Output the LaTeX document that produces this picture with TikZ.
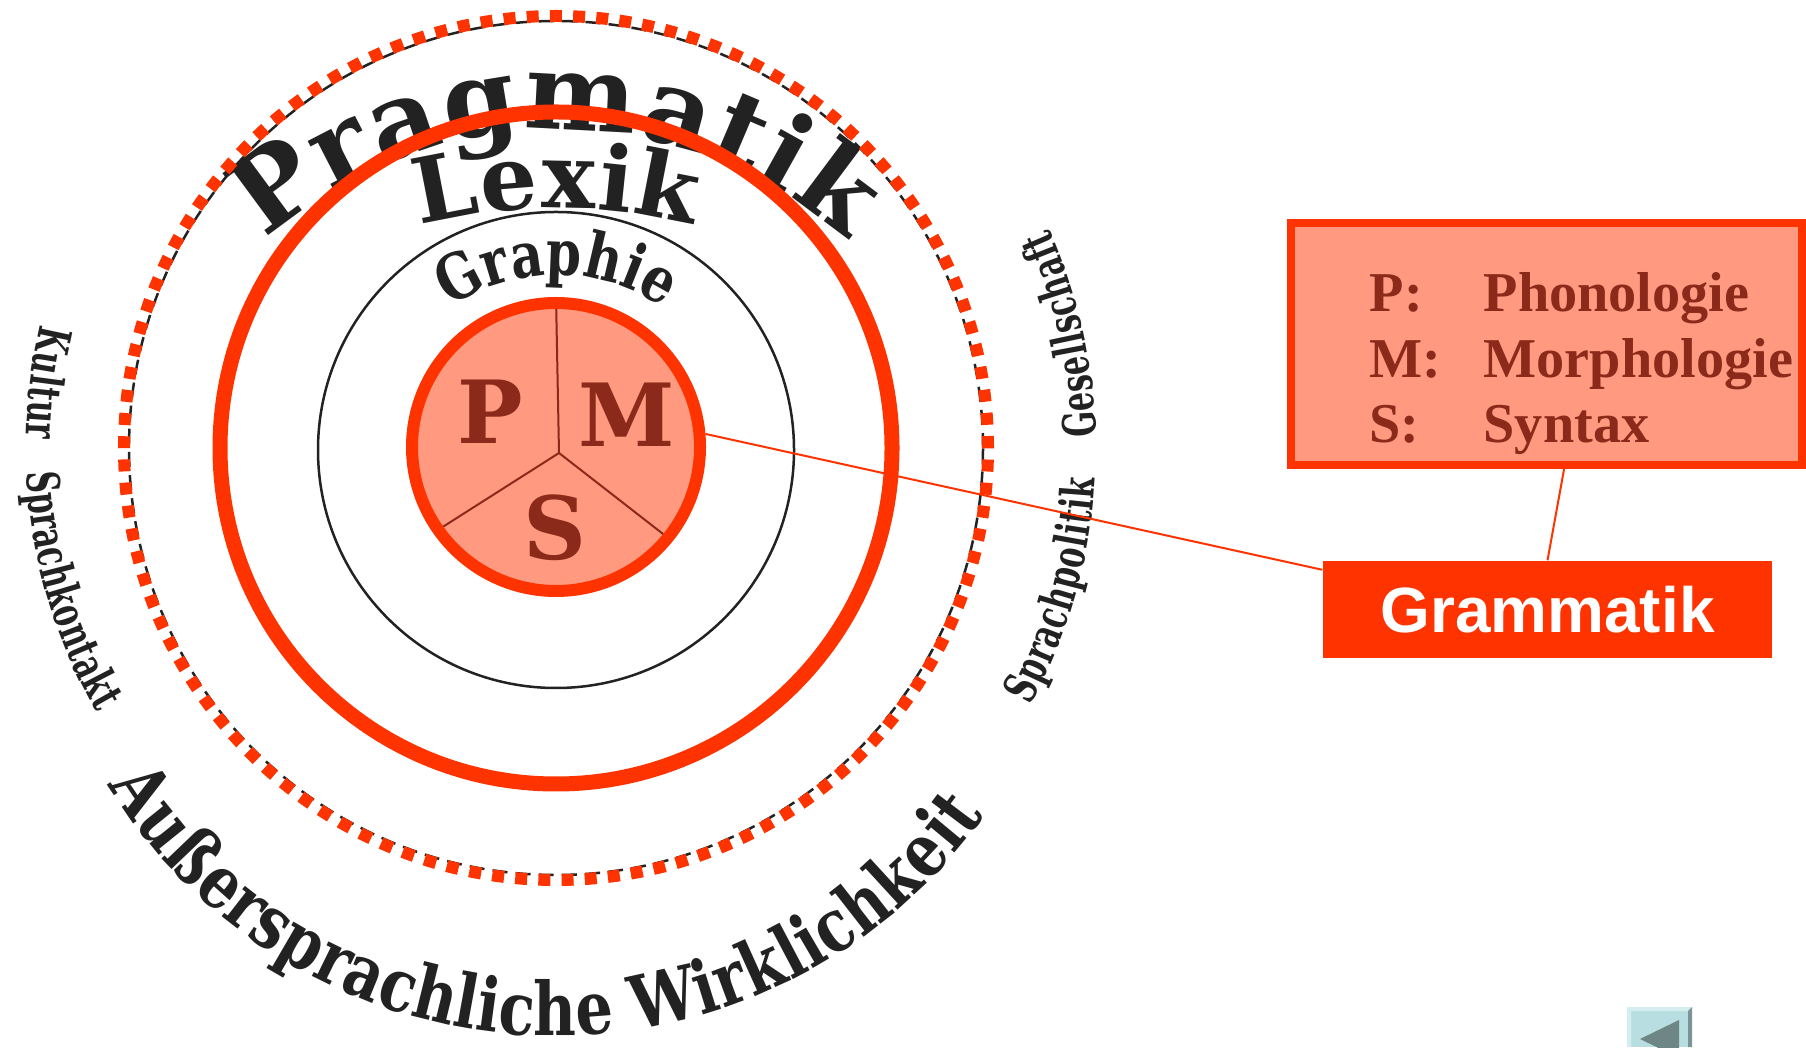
\documentclass[tikz,border=0pt]{standalone}
\usepackage{fontspec}
\usepackage{tikz}
\usetikzlibrary{calc,positioning,decorations.text}
\setsansfont{Liberation Sans}
\newfontfamily\arcfont{DejaVu Serif}
\newfontfamily\arcnarrow[FakeStretch=0.8]{DejaVu Serif}
\newfontfamily\sidefont[FakeStretch=0.66]{DejaVu Serif}
\newfontfamily\legfont{Liberation Serif}
\definecolor{hotred}{HTML}{FF3300}
\definecolor{salmon}{HTML}{FF9980}
\definecolor{rust}{HTML}{8B2A1A}
\definecolor{ink}{HTML}{222222}
\definecolor{btnface}{HTML}{B9DEE1}
\definecolor{btnlight}{HTML}{D6EDEF}
\definecolor{btnshade}{HTML}{7B9597}
\definecolor{btnarrow}{HTML}{6F8686}
\newcommand{\pragfont}{\color{ink}\arcfont\bfseries\fontsize{30}{32}\selectfont}
\newcommand{\lexfont}{\color{ink}\arcfont\bfseries\fontsize{25.6}{28}\selectfont}
\newcommand{\graphfont}{\color{ink}\arcnarrow\bfseries\fontsize{18}{20}\selectfont}
\newcommand{\realfont}{\color{ink}\arcnarrow\bfseries\fontsize{21}{23}\selectfont}
\newcommand{\ringfont}{\color{ink}\sidefont\bfseries\fontsize{13}{15}\selectfont}

\begin{document}
\begin{tikzpicture}[x=0.1mm, y=0.1mm,
    arctext/.style={decorate, decoration={text along path, text align=fit to path, text={#1}}},
    pmsdisk/.style={circle, fill=salmon, draw=hotred, line width=1.2mm, minimum size=28.8mm, inner sep=0pt},
    pmsletter/.style={text=rust, font=\arcfont\bfseries\fontsize{24.8}{26}\selectfont, inner sep=0pt},
    sector/.style={rust, line width=0.2mm, shorten >=1.2mm},
    grambox/.style={fill=hotred, text=white, font=\sffamily\bfseries\fontsize{18.2}{20}\selectfont, minimum width=44.9mm, minimum height=9.7mm, inner sep=0pt},
    legbox/.style={fill=salmon, draw=hotred, line width=0.8mm, minimum width=51.1mm, minimum height=24.2mm, inner sep=0pt},
    legtext/.style={text=rust, font=\legfont\bfseries\fontsize{16}{18}\selectfont, inner sep=0pt, anchor=base west},
    link/.style={hotred, line width=0.2mm}]
\useasboundingbox (0,0) rectangle (1806,1047);

\coordinate (ring) at (556,599);
\coordinate (prag-c) at (556,478);
\coordinate (lex-c) at (556,287);
\coordinate (graph-c) at (556,582);
\coordinate (real-c) at (556,537);

\path[arctext={|\pragfont|Pragmatik}] ($(prag-c)+(131.5:439)$) arc[start angle=131.5, end angle=48.5, radius=439];
\path[arctext={|\lexfont|Lexik}] ($(lex-c)+(104.3:552)$) arc[start angle=104.3, end angle=75.7, radius=552];
\path[arctext={|\graphfont|Graphie}] ($(graph-c)+(124:190)$) arc[start angle=124, end angle=56, radius=190];
\path[arctext={|\realfont|Außersprachliche Wirklichkeit}] ($(real-c)+(211.5:526)$) arc[start angle=211.5, end angle=324.5, radius=526];
\path[arctext={|\ringfont|Kultur}] ($(ring)+(166.5:530)$) arc[start angle=166.5, end angle=179, radius=530];
\path[arctext={|\ringfont|Sprachkontakt}] ($(ring)+(182.6:530)$) arc[start angle=182.6, end angle=210, radius=530];
\path[arctext={|\ringfont|Sprachpolitik}] ($(ring)+(-28.5:540)$) arc[start angle=-28.5, end angle=-3.2, radius=540];
\path[arctext={|\ringfont|Gesellschaft}] ($(ring)+(1.2:540)$) arc[start angle=1.2, end angle=24, radius=540];

\draw[ink, line width=0.25mm, dash pattern=on 1.5mm off 0.82mm] (ring) circle[radius=427];
\draw[hotred, line width=1.2mm, dash pattern=on 1.2mm off 1.12mm] (ring) circle[radius=432];
\draw[hotred, line width=1.5mm] (ring) circle[radius=336];
\draw[ink, line width=0.25mm] (556,597) circle[radius=238];

\node[pmsdisk] (pms) at (556,600) {};
\coordinate (hub) at (559,594);
\draw[sector] (hub) -- (pms.90);
\draw[sector] (hub) -- (pms.215);
\draw[sector] (hub) -- (pms.-39);
\node[pmsletter] (p-letter) at (490,635) {P};
\node[pmsletter] (m-letter) at (627,632) {M};
\node[pmsletter] (s-letter) at (555,519) {S};

\node[legbox] (legend) at (1546.5,703) {};
\foreach \abbr/\word/\yy in {P/Phonologie/735, M/Morphologie/669, S/Syntax/604}{
  \node[legtext] (abbr-\abbr) at (1369,\yy) {\abbr:};
  \node[legtext] (word-\abbr) at (1483,\yy) {\word};
}
\node[grambox] (gram) at (1547.5,437.5) {Grammatik};

\draw[link] (pms.5) -- (gram.170.5);
\draw[link] (legend.-82) -- (gram.north);

\fill[btnface] (1627,0) rectangle (1692,40);
\fill[btnlight] (1627,0) -- (1627,40) -- (1692,40) -- (1688,36) -- (1631,36) -- (1631,0) -- cycle;
\fill[btnshade] (1688,0) -- (1688,36) -- (1692,40) -- (1692,0) -- cycle;
\fill[btnarrow] (1640,8) -- (1679,27) -- (1679,-11) -- cycle;
\end{tikzpicture}
\end{document}
